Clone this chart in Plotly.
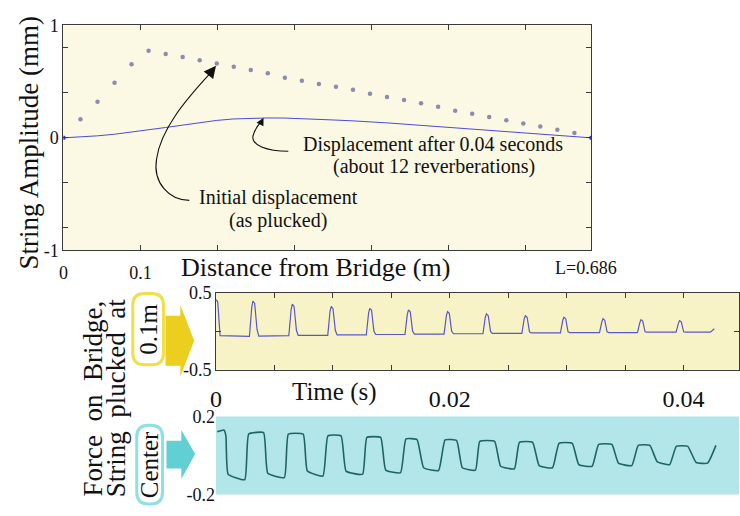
import plotly.graph_objects as go

W, H = 740, 516

# ---------------- data: top panel (string shape) ----------------
distance_m = [0.0, 0.0221, 0.0443, 0.0664, 0.0885, 0.1106, 0.1328, 0.1549, 0.1770, 0.1992,
              0.2213, 0.2434, 0.2655, 0.2877, 0.3098, 0.3319, 0.3541, 0.3762, 0.3983, 0.4204,
              0.4426, 0.4647, 0.4868, 0.5090, 0.5311, 0.5532, 0.5754, 0.5975, 0.6196, 0.6417,
              0.6639, 0.6860]
initial_disp_mm = [0.0, 0.165, 0.32, 0.49, 0.655, 0.775, 0.746, 0.718, 0.689, 0.66,
                   0.633, 0.603, 0.575, 0.535, 0.507, 0.479, 0.455, 0.427, 0.393, 0.364,
                   0.336, 0.308, 0.276, 0.242, 0.214, 0.185, 0.157, 0.128, 0.10, 0.071,
                   0.043, 0.0]
disp_after_mm = [0.0, 0.008, 0.018, 0.032, 0.05, 0.07, 0.092, 0.113, 0.135, 0.155,
                 0.168, 0.175, 0.177, 0.176, 0.172, 0.165, 0.158, 0.151, 0.144, 0.133,
                 0.122, 0.111, 0.100, 0.089, 0.078, 0.067, 0.056, 0.044, 0.033, 0.022,
                 0.011, 0.0]
top_xtick_vals = [0, 0.1, 0.2, 0.3, 0.4, 0.5, 0.6]
top_xtick_text = ["0", "0.1", "", "", "", "", ""]
top_ytick_vals = [-1, -0.8, -0.4, 0, 0.4, 0.8, 1]
top_ytick_text = ["-1", "", "", "0", "", "", "1"]

# ---------------- data: middle panel (plucked at 0.1 m) ----------------
time1_ms = [0.0, 0.15, 0.35,
            2.86, 3.06, 3.16, 3.31, 3.51, 3.66,
            6.23, 6.43, 6.53, 6.68, 6.88, 7.03,
            9.56, 9.76, 9.86, 10.01, 10.21, 10.36,
            12.86, 13.06, 13.16, 13.31, 13.51, 13.66,
            16.17, 16.37, 16.47, 16.62, 16.82, 16.97,
            19.51, 19.71, 19.81, 19.96, 20.16, 20.31,
            22.84, 23.04, 23.14, 23.29, 23.49, 23.64,
            26.17, 26.37, 26.47, 26.62, 26.82, 26.97,
            29.47, 29.67, 29.77, 29.92, 30.12, 30.27,
            32.81, 33.01, 33.11, 33.26, 33.46, 33.61,
            36.06, 36.26, 36.36, 36.51, 36.71, 36.86,
            39.36, 39.56, 39.66, 39.81, 40.01, 40.16,
            42.3, 42.63]
force1 = [0.41, 0.38, -0.06,
          -0.07, 0.31, 0.39, 0.36, 0.02, -0.065,
          -0.06, 0.28, 0.35, 0.32, 0.01, -0.055,
          -0.055, 0.26, 0.32, 0.29, 0.01, -0.05,
          -0.05, 0.24, 0.295, 0.27, 0.0, -0.045,
          -0.045, 0.22, 0.275, 0.25, 0.0, -0.04,
          -0.04, 0.20, 0.253, 0.23, 0.0, -0.035,
          -0.035, 0.18, 0.224, 0.20, -0.005, -0.03,
          -0.03, 0.16, 0.20, 0.18, -0.01, -0.025,
          -0.025, 0.14, 0.18, 0.16, -0.01, -0.02,
          -0.02, 0.12, 0.16, 0.14, -0.01, -0.02,
          -0.02, 0.11, 0.148, 0.13, -0.01, -0.015,
          -0.015, 0.10, 0.135, 0.12, -0.01, -0.015,
          -0.015, 0.03]
time_tick_vals = [0, 0.005, 0.01, 0.015, 0.02, 0.025, 0.03, 0.035, 0.04]
time_tick_text = ["0", "", "", "", "0.02", "", "", "", "0.04"]

# ---------------- data: bottom panel (plucked at centre) ----------------
time2_ms = [0.11, 0.68, 0.85, 1.04, 2.46, 2.80, 4.07, 4.43, 5.85, 6.19,
            7.46, 7.82, 9.15, 9.58, 10.70, 11.13, 12.54, 12.91, 14.09, 14.52,
            15.79, 16.25, 17.20, 17.77, 19.04, 19.60, 20.59, 21.08, 22.20, 22.57,
            23.84, 24.35, 25.53, 25.96, 27.09, 27.65, 28.79, 29.35, 30.48, 31.04,
            32.18, 32.74, 33.87, 34.43, 35.57, 36.13, 37.12, 37.74, 38.81, 39.38,
            40.36, 41.08, 42.06, 42.77]
force2 = [0.122, 0.131, 0.10, -0.096, -0.124, 0.11, 0.118, -0.091, -0.113, 0.11,
          0.11, -0.08, -0.105, 0.101, 0.101, -0.08, -0.096, 0.093, 0.093, -0.075,
          -0.088, 0.085, 0.082, -0.063, -0.077, 0.08, 0.077, -0.063, -0.075, 0.073,
          0.073, -0.055, -0.068, 0.068, 0.068, -0.052, -0.063, 0.063, 0.063, -0.047,
          -0.055, 0.057, 0.057, -0.039, -0.052, 0.052, 0.052, -0.031, -0.047, 0.047,
          0.047, -0.036, -0.039, 0.052]

time1_s = [t / 1000 for t in time1_ms]
time2_s = [t / 1000 for t in time2_ms]

FONT = "Liberation Serif"
TXT = "#111111"
AX = "#3a3a3a"

# layout geometry (pixels)
TOP_L, TOP_R, TOP_T, TOP_B = 58, 591, 16, 250
MID_L, MID_T, MID_B = 212, 294, 374
BOT_T, BOT_B = 423, 504
T_MAX = (W - MID_L) / 11800.0


def px(x):
    return x / W


def py(y):
    return 1 - y / H


def top_pt(x, y):
    dx = (x - TOP_L) / (TOP_R - TOP_L) * 0.686
    dy = 1 - (y - TOP_T) / (TOP_B - TOP_T) * 2
    return dx, dy


def top_path(cmds):
    out = []
    for c, pts in cmds:
        s = " ".join("%.4f,%.4f" % top_pt(*p) for p in pts)
        out.append(f"{c} {s}")
    return " ".join(out)


def paper_poly(pts):
    return "M " + " L ".join("%.5f,%.5f" % (px(a), py(b)) for a, b in pts) + " Z"


def paper_rrect(x0, y0, x1, y1, r):
    def p(a, b):
        return "%.5f,%.5f" % (px(a), py(b))
    return (f"M {p(x0 + r, y0)} L {p(x1 - r, y0)} Q {p(x1, y0)} {p(x1, y0 + r)} "
            f"L {p(x1, y1 - r)} Q {p(x1, y1)} {p(x1 - r, y1)} L {p(x0 + r, y1)} "
            f"Q {p(x0, y1)} {p(x0, y1 - r)} L {p(x0, y0 + r)} Q {p(x0, y0)} {p(x0 + r, y0)} Z")


fig = go.Figure()

dot_colors = ["#3434c4" if i in (0, len(distance_m) - 1) else "#8c8cb0" for i in range(len(distance_m))]
fig.add_trace(go.Scatter(x=distance_m, y=initial_disp_mm, mode="markers",
                         marker=dict(size=4.5, color=dot_colors, line=dict(width=0)),
                         xaxis="x", yaxis="y", hoverinfo="skip"))
fig.add_trace(go.Scatter(x=distance_m, y=disp_after_mm, mode="lines",
                         line=dict(color="#4b4bd6", width=1),
                         xaxis="x", yaxis="y", hoverinfo="skip"))
fig.add_trace(go.Scatter(x=time1_s, y=force1, mode="lines",
                         line=dict(color="#5858c8", width=1.2),
                         xaxis="x2", yaxis="y2", hoverinfo="skip"))
fig.add_trace(go.Scatter(x=time2_s, y=force2, mode="lines",
                         line=dict(color="#1f6464", width=1.6, shape="spline", smoothing=0.4),
                         xaxis="x3", yaxis="y3", hoverinfo="skip"))

tickfont = dict(family=FONT, size=18, color=TXT)

layout = dict(
    width=W, height=H, margin=dict(l=0, r=0, t=0, b=0),
    paper_bgcolor="white", plot_bgcolor="rgba(0,0,0,0)", showlegend=False,
    xaxis=dict(domain=[px(TOP_L), px(TOP_R)], range=[0, 0.686], tickvals=top_xtick_vals,
               ticktext=top_xtick_text, ticks="inside", ticklen=5, tickcolor=AX,
               showline=True, linecolor=AX, linewidth=1, mirror="ticks",
               showgrid=False, zeroline=False, tickfont=tickfont, ticklabelstandoff=6),
    yaxis=dict(domain=[py(TOP_B), py(TOP_T)], range=[-1, 1], tickvals=top_ytick_vals,
               ticktext=top_ytick_text, ticks="inside", ticklen=5, tickcolor=AX,
               showline=True, linecolor=AX, linewidth=1, mirror="ticks",
               showgrid=False, zeroline=False, tickfont=tickfont),
    xaxis2=dict(domain=[px(MID_L), 1.0], range=[0, T_MAX], tickvals=time_tick_vals,
                ticktext=time_tick_text, ticks="inside", ticklen=5, tickcolor=AX,
                showline=True, linecolor=AX, linewidth=1, mirror="ticks",
                showgrid=False, zeroline=False, anchor="y2",
                tickfont=dict(family=FONT, size=24, color=TXT), ticklabelstandoff=8),
    yaxis2=dict(domain=[py(MID_B), py(MID_T)], range=[-0.5, 0.5], tickvals=[-0.5, 0, 0.5],
                ticktext=["-0.5", "", "0.5"], ticks="inside", ticklen=5, tickcolor=AX,
                showline=True, linecolor=AX, linewidth=1, mirror="ticks",
                showgrid=False, zeroline=False, anchor="x2", tickfont=tickfont),
    xaxis3=dict(domain=[px(MID_L), 1.0], range=[0, T_MAX], showticklabels=False,
                ticks="", showline=False, showgrid=False, zeroline=False, anchor="y3"),
    yaxis3=dict(domain=[py(BOT_B), py(BOT_T)], range=[-0.2, 0.2], tickvals=[-0.2, 0.2],
                ticktext=["-0.2", "0.2"], ticks="", showline=False, showgrid=False,
                zeroline=False, anchor="x3", tickfont=tickfont),
)
fig.update_layout(**layout)

shapes = [
    dict(type="rect", xref="x domain", yref="y domain", x0=0, x1=1, y0=0, y1=1,
         fillcolor="#fbf8e3", line=dict(width=0), layer="below"),
    dict(type="rect", xref="x2 domain", yref="y2 domain", x0=0, x1=1, y0=0, y1=1,
         fillcolor="#f8f3c6", line=dict(width=0), layer="below"),
    dict(type="rect", xref="x3 domain", yref="y3 domain", x0=0, x1=1, y0=0, y1=1,
         fillcolor="#b2e6e9", line=dict(width=0), layer="below"),
    # curved annotation arrows in the top panel
    dict(type="path", xref="x", yref="y", line=dict(color="#111", width=1.1),
         path=top_path([("M", [(185, 198)]), ("C", [(165, 198), (148, 180), (152, 155)]),
                        ("C", [(156, 125), (180, 95), (207, 65)])])),
    dict(type="path", xref="x", yref="y", line=dict(color="#111", width=1.1),
         path=top_path([("M", [(285, 147)]), ("C", [(265, 147), (245, 141), (250, 129)]),
                        ("C", [(252, 123), (255, 119), (258, 116)])])),
    # left decorations
    dict(type="path", xref="paper", yref="paper", line=dict(color="#f0de4a", width=3),
         fillcolor="rgba(0,0,0,0)", path=paper_rrect(128, 295, 159, 369, 12)),
    dict(type="path", xref="paper", yref="paper", line=dict(width=0), fillcolor="#ecce1e",
         path=paper_poly([(161, 318), (176, 318), (176, 307), (190, 344), (176, 381),
                          (176, 370), (161, 370)])),
    dict(type="path", xref="paper", yref="paper", line=dict(color="#8fe0e2", width=3),
         fillcolor="rgba(0,0,0,0)", path=paper_rrect(132, 432, 158, 514, 12)),
    dict(type="path", xref="paper", yref="paper", line=dict(width=0), fillcolor="#62cfd4",
         path=paper_poly([(162, 448), (177, 448), (177, 437), (191, 462), (177, 488),
                          (177, 477), (162, 477)])),
]
fig.update_layout(shapes=shapes)


def ann_paper(text, x, y, size, angle=0):
    return dict(text=text, x=px(x), y=py(y), xref="paper", yref="paper", showarrow=False,
                xanchor="center", yanchor="middle", textangle=angle,
                font=dict(family=FONT, size=size, color=TXT))


h1 = top_pt(212, 58)
t1 = top_pt(205, 67)
h2 = top_pt(260, 112)
t2 = top_pt(257, 118)

annotations = [
    ann_paper("String Amplitude (mm)", 23, 138, 27, -90),
    ann_paper("Distance from Bridge (m)", 312, 268, 26),
    ann_paper("L=0.686", 586, 268, 18),
    ann_paper("Displacement after 0.04 seconds", 431, 140, 20),
    ann_paper("(about 12 reverberations)", 432, 163, 20),
    ann_paper("Initial displacement", 275, 195, 20),
    ann_paper("(as plucked)", 275, 219, 20),
    ann_paper("Time (s)", 332, 397, 25),
    ann_paper("Force  on  Bridge,", 88, 404, 27, -90),
    ann_paper("String  plucked  at", 111, 404, 27, -90),
    ann_paper("0.1m", 143, 332, 25, -90),
    ann_paper("Center", 145, 473, 25, -90),
    dict(text="", x=h1[0], y=h1[1], ax=t1[0], ay=t1[1], xref="x", yref="y",
         axref="x", ayref="y", showarrow=True, arrowhead=2, arrowsize=2.2,
         arrowwidth=1.1, arrowcolor="#111"),
    dict(text="", x=h2[0], y=h2[1], ax=t2[0], ay=t2[1], xref="x", yref="y",
         axref="x", ayref="y", showarrow=True, arrowhead=2, arrowsize=1.4,
         arrowwidth=1.1, arrowcolor="#111"),
]
fig.update_layout(annotations=annotations)

fig.write_html("out.html")
